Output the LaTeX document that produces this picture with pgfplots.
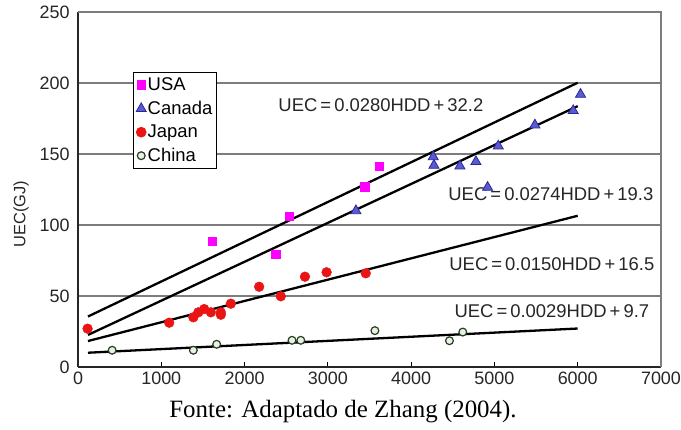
\documentclass[border=0pt]{standalone}
\usepackage{pgfplots}
\pgfplotsset{compat=1.18}
\usepackage{fontspec}
\setmainfont{Liberation Sans}
\newfontfamily\seriffont{Liberation Serif}
\definecolor{usa}{RGB}{255,0,255}
\definecolor{canfill}{RGB}{90,90,210}
\definecolor{candraw}{RGB}{40,40,150}
\definecolor{jpn}{RGB}{235,20,20}
\definecolor{chndraw}{RGB}{40,60,40}
\definecolor{chnfill}{RGB}{232,242,225}
\definecolor{gridgray}{RGB}{125,125,125}
\begin{document}
\begin{tikzpicture}
\path[use as bounding box] (-78bp,-63bp) rectangle (603bp,367bp);
\begin{axis}[
  at={(0,0)}, anchor=south west,
  scale only axis, width=583bp, height=355bp,
  xmin=0, xmax=7000, ymin=0, ymax=250,
  xtick={0,1000,...,7000}, ytick={0,50,...,250},
  scaled x ticks=false,
  /pgf/number format/1000 sep={},
  /pgf/number format/assume math mode=true,
  axis lines=left,
  axis line style={-, line width=1.2bp, draw=black!85},
  tick align=inside,
  major tick length=5bp,
  xtick style={draw=black, line width=1bp},
  ytick style={draw=none},
  ymajorgrids,
  grid style={gridgray, line width=1.3bp},
  ticklabel style={font=\fontsize{18}{21}\selectfont, text=black!85},
  yticklabel style={xshift=-5bp},
  xticklabel style={yshift=-1bp},
  ylabel={UEC(GJ)},
  every axis y label/.style={at={(rel axis cs:0,0.43)}, xshift=-57bp, rotate=90, anchor=center, font=\fontsize{16.5}{19}\selectfont, text=black!85},
  legend style={at={(rel axis cs:0.094,0.831)}, anchor=north west, draw=black, line width=0.8bp, fill=white,
    font=\fontsize{18.5}{22}\selectfont, inner xsep=3bp, inner ysep=3bp, row sep=4bp,
    nodes={inner xsep=1.5bp, inner ysep=2.5bp}},
  legend cell align=left,
  legend image code/.code={\draw[mark repeat=1,#1] plot coordinates {(4bp,0bp)};},
  clip=false,
]
\addplot[only marks, mark=square*, mark size=4.3bp, draw=usa, fill=usa] coordinates {
(1610,88.7) (2375,79.3) (2535,106.3) (3445,127) (3615,141.5)};
\addlegendentry{USA}
\addplot[only marks, mark=triangle*, mark size=5.8bp, draw=candraw, fill=canfill, line width=0.8bp] coordinates {
(3337,110) (4265,148) (4274,142) (4586,141.5) (4778,144.6) (4918,126.5) (5046,155.6) (5486,170.4) (5946,180.5) (6034,192)};
\addlegendentry{Canada}
\addplot[only marks, mark=*, mark size=4.9bp, draw=jpn, fill=jpn] coordinates {
(115,27) (1095,31.2) (1385,35) (1445,38.5) (1515,40.8) (1595,38.5) (1715,38.5) (1715,36.8) (1835,44.6) (2175,56.5) (2435,49.8) (2725,63.6) (2985,66.7) (3455,66)};
\addlegendentry{Japan}
\addplot[only marks, mark=*, mark size=3.9bp, draw=chndraw, fill=chnfill, line width=1.2bp] coordinates {
(410,11.8) (1385,11.8) (1665,16) (2570,18.8) (2675,18.8) (3565,25.6) (4460,18.5) (4620,24.6)};
\addlegendentry{China}
% regression lines
\addplot[forget plot, black, line width=2.3bp] coordinates {(120,35.56) (6000,200.2)};
\addplot[forget plot, black, line width=2.3bp] coordinates {(120,22.59) (6000,183.7)};
\addplot[forget plot, black, line width=2.3bp] coordinates {(120,18.3) (6000,106.5)};
\addplot[forget plot, black, line width=2.3bp] coordinates {(120,10.05) (6000,27.1)};
% frame top/right
\draw[gridgray, line width=1.3bp] (rel axis cs:0,1) -- (rel axis cs:1,1) -- (rel axis cs:1,0);
% equations
\begin{scope}[every node/.style={font=\fontsize{18.5}{21}\selectfont, text=black!85}]
\node at (axis cs:3637,184.5) {UEC\,=\,0.0280HDD\,+\,32.2};
\node at (axis cs:5678,121.8) {UEC\,=\,0.0274HDD\,+\,19.3};
\node at (axis cs:5690,72.5) {UEC\,=\,0.0150HDD\,+\,16.5};
\node at (axis cs:5690,39.4) {UEC\,=\,0.0029HDD\,+\,9.7};
\end{scope}
\end{axis}
\node[anchor=base, font=\seriffont\fontsize{25}{28}\selectfont] at (265bp,-50bp) {Fonte: Adaptado de Zhang (2004).};
\end{tikzpicture}
\end{document}
